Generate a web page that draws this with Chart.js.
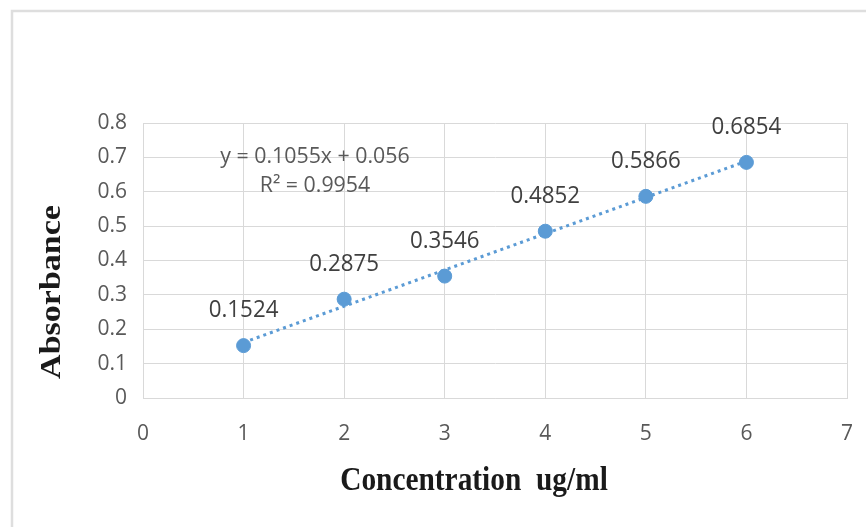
<!DOCTYPE html>
<html>
<head>
<meta charset="utf-8">
<script src="https://cdn.jsdelivr.net/npm/chart.js@4.4.0/dist/chart.umd.min.js"></script>
<style>
  body { margin: 0; background: #fff; }
  #wrap { width: 866px; height: 527px; position: relative; }
</style>
</head>
<body>
<div id="wrap"><canvas id="grafico" width="866" height="527"></canvas></div>
<script>
// dados da curva de calibração
var concentracoes = [1, 2, 3, 4, 5, 6];
var absorbancias = [0.1524, 0.2875, 0.3546, 0.4852, 0.5866, 0.6854];
var rotulosY = ['0', '0.1', '0.2', '0.3', '0.4', '0.5', '0.6', '0.7', '0.8'];
var rotulosX = ['0', '1', '2', '3', '4', '5', '6', '7'];

// linha de tendência (equação mostrada no gráfico)
var inclinacao = 0.1055;
var intercepto = 0.056;
var r2 = 0.9954;
var textoEquacao = ['y = 0.1055x + 0.056', 'R\u00b2 = 0.9954'];

var tituloX = 'Concentration  ug/ml';
var tituloY = 'Absorbance';

var azul = '#5b9bd5';

var pontos = concentracoes.map(function (c, i) { return { x: c, y: absorbancias[i] }; });
var xIni = concentracoes[0], xFim = concentracoes[concentracoes.length - 1];
var tendencia = [
    { x: xIni, y: inclinacao * xIni + intercepto },
    { x: xFim, y: inclinacao * xFim + intercepto }
];

// texto com compressão horizontal (a imagem original está esticada na vertical)
function textoApertado(ctx, txt, x, y, escala) {
    ctx.save();
    ctx.translate(x, y);
    ctx.scale(escala, 1);
    ctx.fillText(txt, 0, 0);
    ctx.restore();
}

const extras = {
    id: 'extras',
    beforeDraw(chart) {
        const c = chart.ctx;
        c.save();
        c.strokeStyle = '#dedede';
        c.lineWidth = 2.5;
        c.beginPath();
        c.moveTo(12, 527);
        c.lineTo(12, 11);
        c.lineTo(866, 11);
        c.stroke();
        c.restore();
    },
    afterDatasetsDraw(chart) {
        const c = chart.ctx;
        const sx = chart.scales.x, sy = chart.scales.y;
        c.save();
        c.textAlign = 'center';
        c.textBaseline = 'middle';

        // rótulos dos pontos
        c.fillStyle = '#404040';
        c.font = '24px "Open Sans"';
        for (let i = 0; i < concentracoes.length; i++) {
            let px = sx.getPixelForValue(concentracoes[i]);
            let py = sy.getPixelForValue(absorbancias[i]);
            textoApertado(c, String(absorbancias[i]), px, py - 35, 0.93);
        }

        // equação
        c.fillStyle = '#595959';
        c.font = '22px "Open Sans"';
        let ex = sx.getPixelForValue(1.71);
        textoApertado(c, textoEquacao[0], ex, sy.getPixelForValue(0.703), 0.97);
        textoApertado(c, textoEquacao[1], ex, sy.getPixelForValue(0.618), 0.97);

        // títulos dos eixos
        c.fillStyle = '#1a1a1a';
        c.font = 'bold 33px "Liberation Serif"';
        textoApertado(c, tituloX, 474, 481, 0.89);

        c.save();
        c.translate(53, 292);
        c.rotate(-Math.PI / 2);
        c.scale(1, 0.85);
        c.font = 'bold 34px "Liberation Serif"';
        c.fillText(tituloY, 0, 0);
        c.restore();

        c.restore();
    }
};

new Chart(document.getElementById('grafico'), {
    type: 'scatter',
    data: {
        datasets: [{
            type: 'line',
            data: tendencia,
            borderColor: azul,
            borderWidth: 3,
            borderDash: [3, 4],
            pointRadius: 0,
            fill: false,
            order: 2
        }, {
            data: pontos,
            backgroundColor: azul,
            borderColor: azul,
            pointRadius: 7,
            pointHoverRadius: 7,
            order: 1
        }]
    },
    options: {
        responsive: false,
        animation: false,
        events: [],
        layout: { padding: { top: 123, right: 19, left: 0, bottom: 0 } },
        plugins: { legend: { display: false }, tooltip: { enabled: false } },
        scales: {
            x: {
                type: 'linear',
                min: 0,
                max: 7,
                afterFit: function (s) { s.height = 129; s.paddingLeft = 0; s.paddingRight = 0; },
                grid: { color: '#d9d9d9', drawTicks: false },
                border: { color: '#d9d9d9' },
                ticks: {
                    stepSize: 1,
                    padding: 23,
                    color: '#595959',
                    font: { family: 'Open Sans', size: 21 },
                    callback: function (v, i) { return rotulosX[i]; }
                }
            },
            y: {
                min: 0,
                max: 0.8,
                afterFit: function (s) { s.width = 143; s.paddingTop = 0; s.paddingBottom = 0; },
                grid: { color: '#d9d9d9', drawTicks: false },
                border: { color: '#d9d9d9' },
                ticks: {
                    stepSize: 0.1,
                    padding: 16,
                    color: '#595959',
                    font: { family: 'Open Sans', size: 21 },
                    callback: function (v, i) { return rotulosY[i]; }
                }
            }
        }
    },
    plugins: [extras]
});
</script>
</body>
</html>
